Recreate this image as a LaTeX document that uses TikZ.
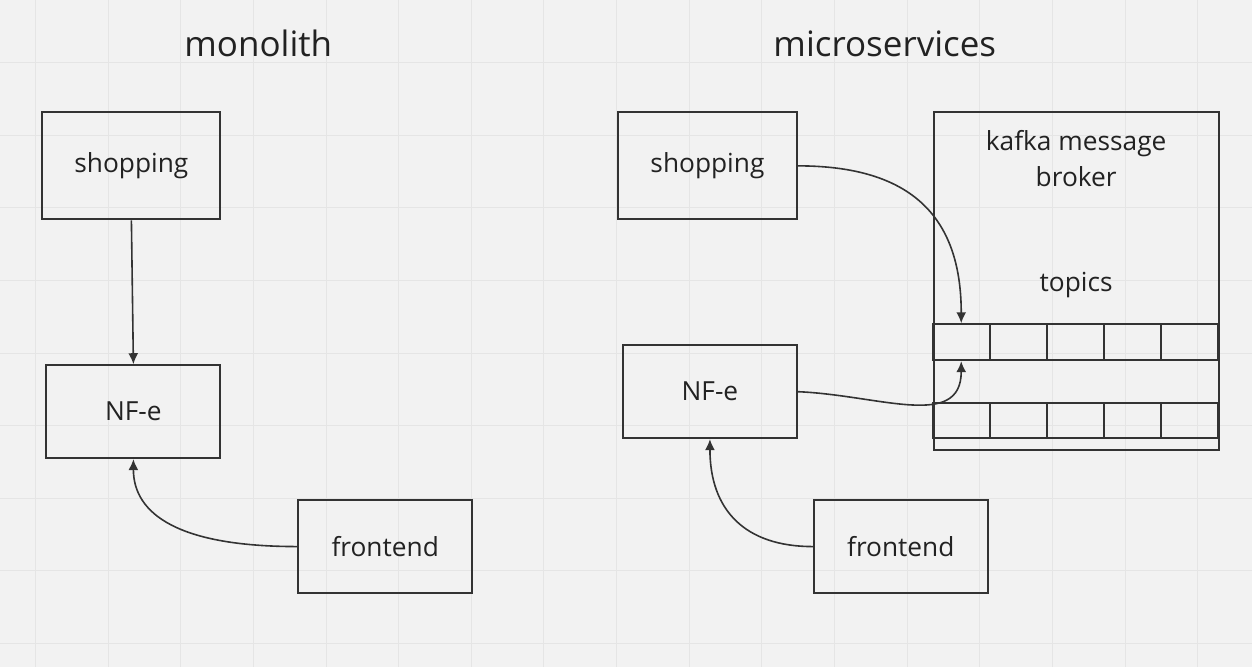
\documentclass[tikz,border=0pt]{standalone}
\usepackage{fontspec}
\setmainfont{Open Sans}
\usetikzlibrary{arrows.meta}
\definecolor{ink}{HTML}{333333}
\definecolor{textink}{HTML}{222222}
\definecolor{paper}{HTML}{F2F2F2}
\definecolor{gridline}{HTML}{E5E5E5}
\tikzset{
  font=\fontsize{26.3}{36}\selectfont,
  >={Latex[length=11pt,width=10pt]},
  box/.style={draw=ink,line width=2pt,text=textink,align=center,inner sep=0pt},
  smallbox/.style={box,minimum width=174pt,minimum height=93pt},
  bigbox/.style={box,minimum width=178pt,minimum height=107pt},
  cell/.style={draw=ink,line width=2pt,minimum width=57pt,inner sep=0pt},
  label/.style={text=textink,align=center,inner sep=0pt},
  title/.style={label,font=\fontsize{35}{42}\selectfont},
  flow/.style={->,draw=ink,line width=1.6pt}
}

\begin{document}
\begin{tikzpicture}[x=1pt,y=-1pt]
  \fill[paper] (0,0) rectangle (1252,667);
  \foreach \k in {0,...,16} \draw[gridline,line width=1pt] (35+72.7*\k,0) -- (35+72.7*\k,667);
  \foreach \k in {0,...,8} \draw[gridline,line width=1pt] (0,62+72.7*\k) -- (1252,62+72.7*\k);

  % monolith
  \node[title] (monotitle) at (258,43) {monolith};
  \node[bigbox] (shopa) at (131,165.5) {shopping};
  \node[smallbox] (nfea) at (133,411.5) {NF-e};
  \node[smallbox] (fronta) at (385,546.5) {frontend};

  \draw[flow] (shopa.south) -- (nfea.north);
  \draw[flow] (fronta.west) .. controls (180,546.5) and (133,515) .. (nfea.south);

  % microservices
  \node[title] (microtitle) at (885,43) {microservices};
  \node[bigbox,minimum width=179pt] (shopb) at (707.5,165.5) {shopping};
  \node[smallbox] (nfeb) at (710,391.5) {NF-e};
  \node[smallbox] (frontb) at (901,546.5) {frontend};

  \node[box,minimum width=285pt,minimum height=338pt] (kafka) at (1076.5,281) {};
  \node[label] (kafkalbl) at (1076.5,158) {kafka message\\broker};
  \node[label] (topics) at (1076.5,285) {topics};
  \foreach \i in {0,...,4} {
    \node[cell,minimum height=36pt] (a\i) at (961.5+57*\i,342) {};
    \node[cell,minimum height=35pt] (b\i) at (961.5+57*\i,420.5) {};
  }

  \draw[flow] (shopb.east) .. controls (910,165.5) and (961.5,215) .. (a0.north);
  \draw[flow] (nfeb.east) .. controls (880,395) and (961.5,430) .. (a0.south);
  \draw[flow] (frontb.west) .. controls (745,546.5) and (710,510) .. (nfeb.south);
\end{tikzpicture}
\end{document}
